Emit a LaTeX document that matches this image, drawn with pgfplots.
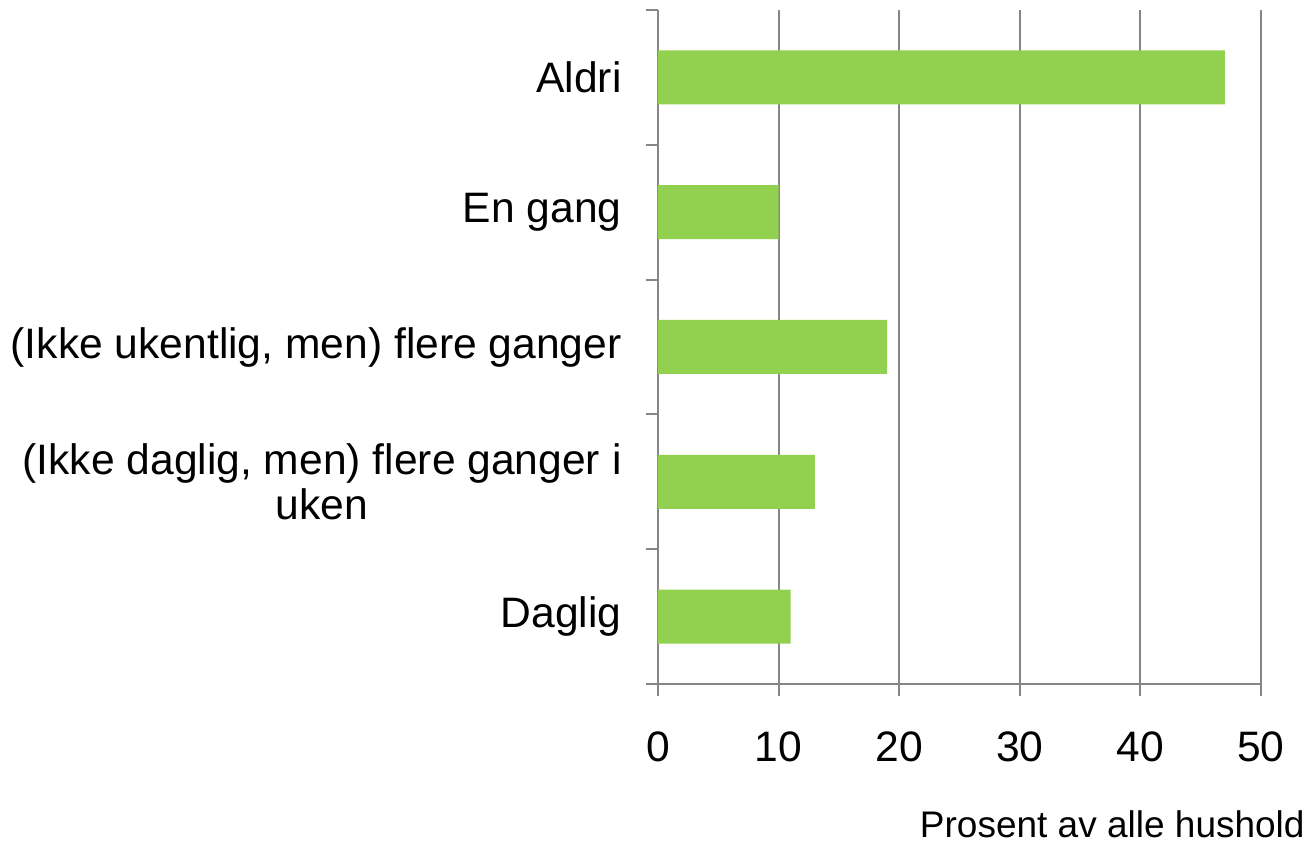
\documentclass[border=0pt]{standalone}
\usepackage{pgfplots}
\pgfplotsset{compat=1.18}
\usepackage{fontspec}
\setmainfont{Liberation Sans}
\definecolor{barg}{HTML}{92D050}
\definecolor{axg}{HTML}{868686}
\begin{document}
\begin{tikzpicture}
\begin{axis}[
 scale only axis, width=301.5pt, height=337pt,
 xbar, bar width=27pt,
 xmin=0, xmax=50, ymin=-0.5, ymax=4.5,
 axis x line*=bottom, axis y line*=left,
 axis line style={axg, line width=1pt},
 xtick={0,10,...,50},
 xmajorgrids, grid style={axg, line width=1pt},
 tick style={axg, line width=1pt},
 tick align=outside, major tick length=6pt,
 ytick={-0.5,0.5,...,4.5}, yticklabels={},
 extra y ticks={0,1,2,3,4},
 extra y tick labels={Daglig, {(Ikke daglig, men) flere ganger i\\uken}, {(Ikke ukentlig, men) flere ganger}, En gang, Aldri},
 extra y tick style={major tick length=0pt, grid=none},
 yticklabel style={font=\fontsize{21.3}{22.5}\selectfont, align=center, anchor=east, inner sep=0pt, xshift=-18pt},
 xticklabel style={font=\fontsize{21.3}{22.5}\selectfont, anchor=base, yshift=-32.5pt},
 xlabel={Prosent av alle hushold},
 xlabel style={font=\fontsize{18.5}{20}\selectfont, at={(axis description cs:1,0)}, anchor=base east, inner sep=0pt, xshift=22pt, yshift=-76.5pt},
 /pgf/number format/assume math mode=true,
]
\addplot[fill=barg, draw=none] coordinates {(11,0) (13,1) (19,2) (10,3) (47,4)};
\end{axis}
\pgfresetboundingbox
\path[use as bounding box] ([xshift=-329pt,yshift=-80pt]current axis.south west) rectangle ([xshift=24pt,yshift=5pt]current axis.north east);
\end{tikzpicture}
\end{document}
